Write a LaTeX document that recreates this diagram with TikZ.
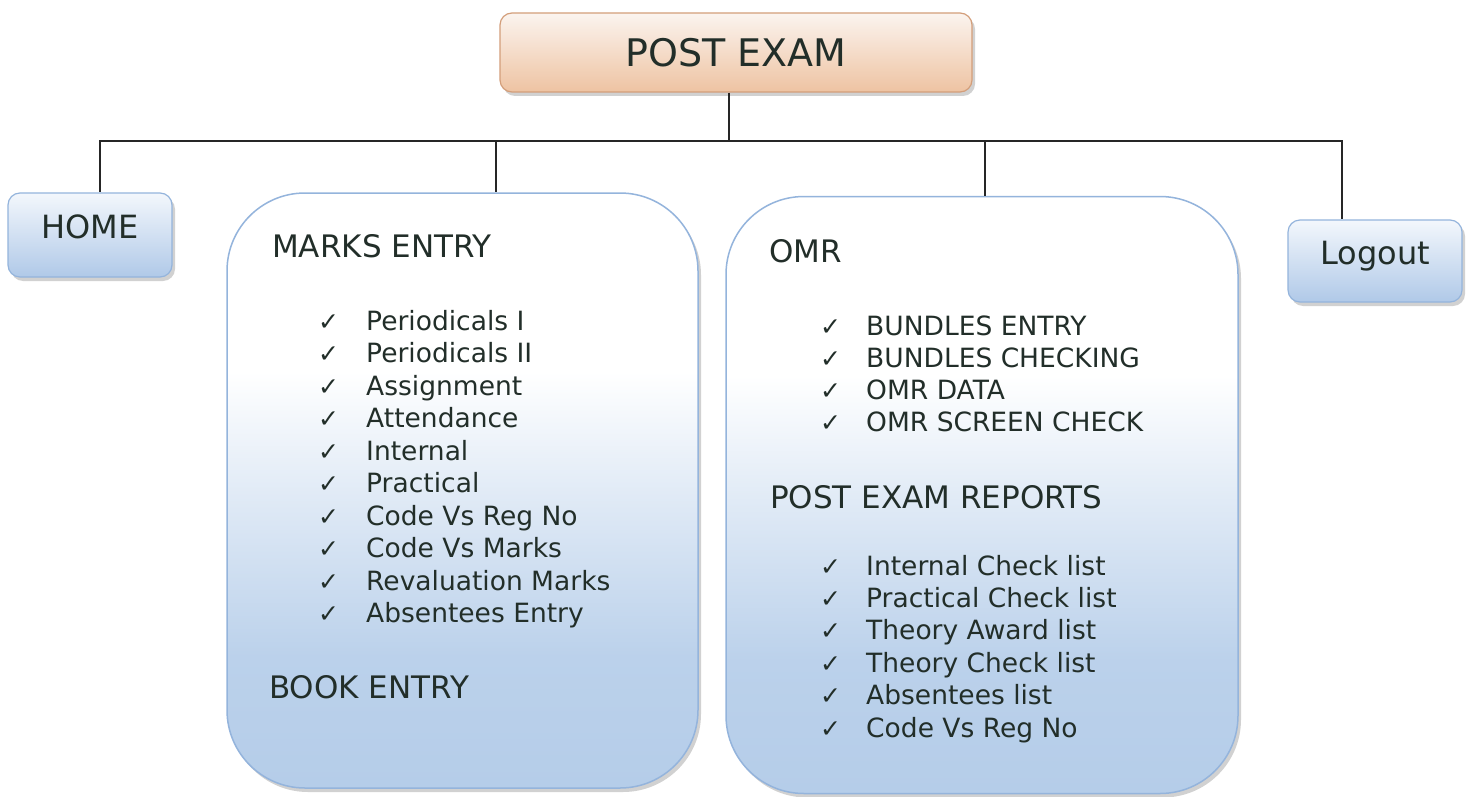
\documentclass[tikz,border=0pt]{standalone}
\usepackage{fontspec}
\setmainfont{DejaVu Sans}
\usetikzlibrary{shadows}
\definecolor{txt}{HTML}{222E29}
\definecolor{bb}{HTML}{B5CDE9}
\definecolor{bbord}{HTML}{94B4DC}
\definecolor{sbtop}{HTML}{F3F7FC}
\definecolor{sbbot}{HTML}{B0C9E8}
\definecolor{peach}{HTML}{EEC3A2}
\definecolor{ptop}{HTML}{FBF4EF}
\definecolor{pbord}{HTML}{D39E7A}
\pgfdeclareverticalshading{bigblue}{100bp}{color(0bp)=(bb); color(25bp)=(bb); color(36bp)=(bb!92!white); color(50bp)=(bb!40!white); color(60bp)=(white); color(100bp)=(white)}
\tikzset{
  conn/.style={draw=black!85, line width=1.3pt},
  shad/.style={drop shadow={shadow xshift=3pt, shadow yshift=-4pt, fill=black!40, opacity=0.45}},
  bigbox/.style={draw=bbord, line width=1.5pt, rounded corners=78pt, shading=bigblue, shad, inner sep=0pt},
  smallbox/.style={draw=bbord, line width=1.2pt, rounded corners=12pt, top color=sbtop, bottom color=sbbot, shad, text=txt, font=\fontsize{32}{38}\selectfont, text depth=16pt},
  topbox/.style={draw=pbord, line width=1.2pt, rounded corners=12pt, top color=ptop, bottom color=peach, shad, text=txt, font=\fontsize{38}{44}\selectfont},
  head/.style={anchor=base west, inner sep=0pt, text=txt, font=\fontsize{31}{36}\selectfont},
  item/.style={anchor=base west, inner sep=0pt, text=txt, font=\fontsize{26.5}{32}\selectfont},
  chk/.style={anchor=base west, inner sep=0pt, text=txt, font=\fontsize{25}{30}\selectfont},
}
\begin{document}
\begin{tikzpicture}[x=1pt, y=-1pt]
\useasboundingbox (0,0) rectangle (1469,797);
\fill[white] (0,0) rectangle (1469,797);

% boxes
\node[topbox, minimum width=472pt, minimum height=79pt] (post) at (736,52.5) {POST EXAM};
\node[smallbox, minimum width=164pt, minimum height=84pt] (home) at (90,235) {HOME};
\node[smallbox, minimum width=174pt, minimum height=82pt] (logout) at (1375,261) {Logout};
\node[bigbox, minimum width=471pt, minimum height=595pt] (marks) at (462.5,490.5) {};
\node[bigbox, minimum width=512pt, minimum height=597pt] (omr) at (982,495) {};

% connectors
\coordinate (bus) at (729,141);
\draw[conn] (bus |- post.south) -- (bus);
\draw[conn] (bus) -| ([xshift=10pt]home.north);
\draw[conn] (bus) -| ([xshift=33.5pt]marks.north);
\draw[conn] (bus) -| ([xshift=3pt]omr.north);
\draw[conn] (bus) -| ([xshift=-33pt]logout.north);

% marks entry content
\node[head] (mh) at (272,257) {MARKS ENTRY};
\foreach \t [count=\i] in {Periodicals I, Periodicals II, Assignment, Attendance, Internal, Practical, Code Vs Reg No, Code Vs Marks, Revaluation Marks, Absentees Entry}{
  \node[chk] (mc\i) at (318,{330+32.5*(\i-1)}) {✓};
  \node[item] (mi\i) at (366,{330+32.5*(\i-1)}) {\t};
}
\node[head] (bk) at (269,698) {BOOK ENTRY};

% omr content
\node[head] (oh) at (769,262) {OMR};
\foreach \t [count=\i] in {BUNDLES ENTRY, BUNDLES CHECKING, OMR DATA, OMR SCREEN CHECK}{
  \node[chk] (oc\i) at (820,{335+32.3*(\i-1)}) {✓};
  \node[item] (oi\i) at (866,{335+32.3*(\i-1)}) {\t};
}
\node[head] (rh) at (770,508) {POST EXAM REPORTS};
\foreach \t [count=\i] in {Internal Check list, Practical Check list, Theory Award list, Theory Check list, Absentees list, Code Vs Reg No}{
  \node[chk] (rc\i) at (820,{575+32.4*(\i-1)}) {✓};
  \node[item] (ri\i) at (866,{575+32.4*(\i-1)}) {\t};
}
\end{tikzpicture}
\end{document}
